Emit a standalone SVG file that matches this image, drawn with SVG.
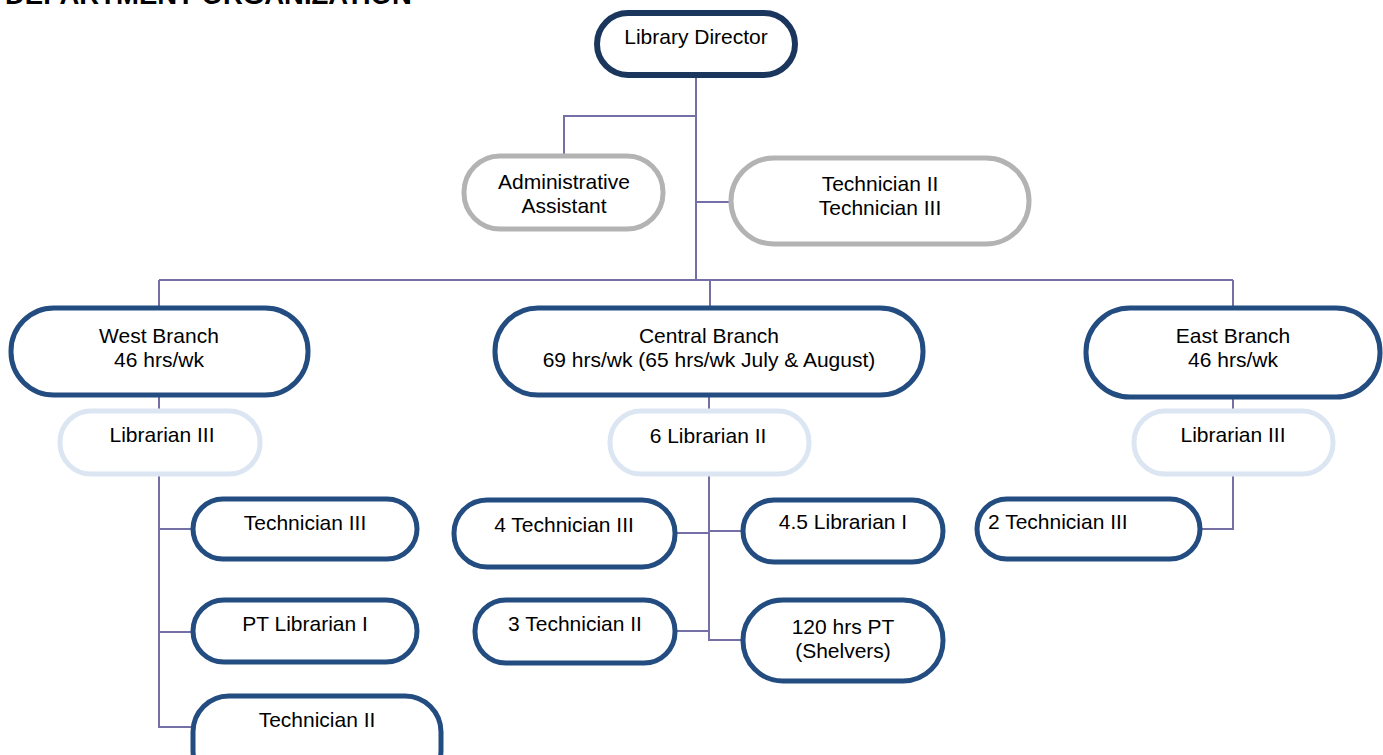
<svg xmlns="http://www.w3.org/2000/svg" width="1383" height="755" viewBox="0 0 1383 755">
  <style>
    text { font-family: "Liberation Sans", Arial, sans-serif; font-size: 21px; fill: #000; text-anchor: middle; }
    .title { font-weight: bold; font-size: 27.5px; text-anchor: start; }
    .node { fill: #fff; }
    .top { stroke: #1B365D; stroke-width: 6; }
    .staff { stroke: #B3B3B3; stroke-width: 5; }
    .unit { stroke: #234C80; stroke-width: 5; }
    .lead { stroke: #DCE6F2; stroke-width: 5; }
    .conn { fill: none; stroke: #7470A6; stroke-width: 2; }
  </style>
  <rect width="1383" height="755" fill="#fff"/>
  <text class="title" x="5" y="4">DEPARTMENT ORGANIZATION</text>

  <g id="connectors">
    <path class="conn" d="M696 78 V280 M696 116 H564 V154 M696 202 H729"/>
    <path class="conn" d="M159 280 H1233 M159 280 V306 M710 280 V306 M1233 280 V306"/>
    <path class="conn" d="M159 397 V410 M159 476 V727 H192 M159 529 H192 M159 632 H192"/>
    <path class="conn" d="M709 397 V410 M709 476 V640 H741 M709 531 H741 M709 533 H677 M709 631 H677"/>
    <path class="conn" d="M1233 398 V410 M1233 476 V529 H1202"/>
  </g>

  <g id="director">
    <rect class="node top" x="597" y="13" width="198" height="62" rx="31"/>
    <text x="696" y="44">Library Director</text>
  </g>
  <g id="admin-assistant">
    <rect class="node staff" x="464" y="156" width="199" height="73" rx="36"/>
    <text x="564" y="189">Administrative</text>
    <text x="564" y="213">Assistant</text>
  </g>
  <g id="technicians">
    <rect class="node staff" x="731" y="158" width="298" height="86" rx="43"/>
    <text x="880" y="191">Technician II</text>
    <text x="880" y="215">Technician III</text>
  </g>

  <g id="west-branch">
    <rect class="node unit" x="11" y="308" width="297" height="87" rx="43"/>
    <text x="159" y="343">West Branch</text>
    <text x="159" y="367">46 hrs/wk</text>
  </g>
  <g id="central-branch">
    <rect class="node unit" x="495" y="308" width="428" height="87" rx="43"/>
    <text x="709" y="343">Central Branch</text>
    <text x="709" y="367">69 hrs/wk (65 hrs/wk July &amp; August)</text>
  </g>
  <g id="east-branch">
    <rect class="node unit" x="1086" y="308" width="294" height="89" rx="44"/>
    <text x="1233" y="343">East Branch</text>
    <text x="1233" y="367">46 hrs/wk</text>
  </g>

  <g id="west-librarian-iii">
    <rect class="node lead" x="60" y="411" width="200" height="63" rx="31"/>
    <text x="162" y="442">Librarian III</text>
  </g>
  <g id="central-librarian-ii">
    <rect class="node lead" x="610" y="411" width="199" height="63" rx="31"/>
    <text x="708" y="443">6 Librarian II</text>
  </g>
  <g id="east-librarian-iii">
    <rect class="node lead" x="1134" y="411" width="199" height="63" rx="31"/>
    <text x="1233" y="442">Librarian III</text>
  </g>

  <g id="west-technician-iii">
    <rect class="node unit" x="193" y="499" width="224" height="60" rx="30"/>
    <text x="305" y="530">Technician III</text>
  </g>
  <g id="west-pt-librarian-i">
    <rect class="node unit" x="193" y="600" width="224" height="62" rx="31"/>
    <text x="305" y="631">PT Librarian I</text>
  </g>
  <g id="west-technician-ii">
    <rect class="node unit" x="193" y="696" width="248" height="90" rx="36"/>
    <text x="317" y="727">Technician II</text>
  </g>

  <g id="central-technician-iii">
    <rect class="node unit" x="454" y="500" width="221" height="67" rx="33"/>
    <text x="564" y="532">4 Technician III</text>
  </g>
  <g id="central-librarian-i">
    <rect class="node unit" x="743" y="500" width="200" height="62" rx="31"/>
    <text x="843" y="529">4.5 Librarian I</text>
  </g>
  <g id="central-technician-ii">
    <rect class="node unit" x="475" y="600" width="200" height="63" rx="31"/>
    <text x="575" y="631">3 Technician II</text>
  </g>
  <g id="central-shelvers">
    <rect class="node unit" x="743" y="600" width="200" height="81" rx="40"/>
    <text x="843" y="634">120 hrs PT</text>
    <text x="843" y="658">(Shelvers)</text>
  </g>

  <g id="east-technician-iii">
    <rect class="node unit" x="977" y="499" width="223" height="60" rx="30"/>
    <text x="988" y="529" style="text-anchor:start">2 Technician III</text>
  </g>
</svg>
